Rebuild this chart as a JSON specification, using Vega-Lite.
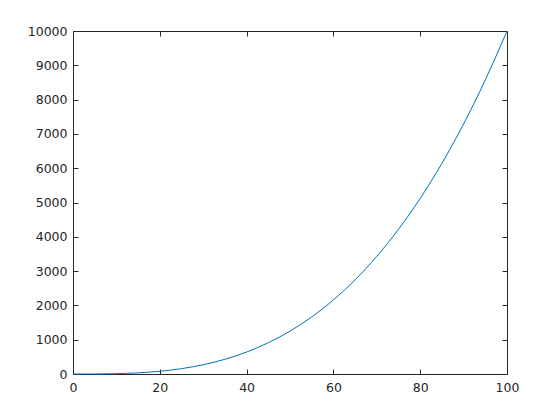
{
  "$schema": "https://vega.github.io/schema/vega-lite/v6.json",
  "autosize": {"type": "none"},
  "width": 434,
  "height": 343,
  "padding": {"left": 73, "top": 31, "right": 53, "bottom": 46},
  "background": "white",
  "config": {
    "view": {"stroke": null},
    "axis": {
      "grid": false,
      "domainColor": "#262626",
      "domainWidth": 1,
      "tickColor": "#262626",
      "tickSize": -5,
      "labelColor": "#262626",
      "labelFont": "DejaVu Sans",
      "labelFontSize": 12.5,
      "labelFlush": false,
      "labelOverlap": false,
      "labelBound": false,
      "format": "d",
      "title": null
    }
  },
  "data": {
    "values": [
      {"x": 0, "y": 0}, {"x": 5, "y": 1.25}, {"x": 10, "y": 10}, {"x": 15, "y": 33.75},
      {"x": 20, "y": 80}, {"x": 25, "y": 156.25}, {"x": 30, "y": 270}, {"x": 35, "y": 428.75},
      {"x": 40, "y": 640}, {"x": 45, "y": 911.25}, {"x": 50, "y": 1250}, {"x": 55, "y": 1663.75},
      {"x": 60, "y": 2160}, {"x": 65, "y": 2746.25}, {"x": 70, "y": 3430}, {"x": 75, "y": 4218.75},
      {"x": 80, "y": 5120}, {"x": 85, "y": 6141.25}, {"x": 90, "y": 7290}, {"x": 95, "y": 8573.75},
      {"x": 100, "y": 10000}
    ]
  },
  "layer": [
    {
      "mark": {"type": "line", "color": "#0072BD", "strokeWidth": 1, "interpolate": "monotone"},
      "encoding": {
        "x": {"field": "x", "type": "quantitative", "scale": {"domain": [0, 100], "nice": false},
          "axis": {"orient": "bottom", "values": [0, 20, 40, 60, 80, 100], "labelPadding": 12}},
        "y": {"field": "y", "type": "quantitative", "scale": {"domain": [0, 10000], "nice": false},
          "axis": {"orient": "left", "values": [0, 1000, 2000, 3000, 4000, 5000, 6000, 7000, 8000, 9000, 10000], "labelPadding": 11}}
      }
    },
    {
      "mark": {"type": "line", "opacity": 0},
      "encoding": {
        "x": {"field": "x", "type": "quantitative", "scale": {"domain": [0, 100], "nice": false},
          "axis": {"orient": "top", "values": [0, 20, 40, 60, 80, 100], "labels": false}},
        "y": {"field": "y", "type": "quantitative", "scale": {"domain": [0, 10000], "nice": false},
          "axis": {"orient": "right", "values": [0, 1000, 2000, 3000, 4000, 5000, 6000, 7000, 8000, 9000, 10000], "labels": false}}
      }
    }
  ],
  "resolve": {"axis": {"x": "independent", "y": "independent"}}
}
